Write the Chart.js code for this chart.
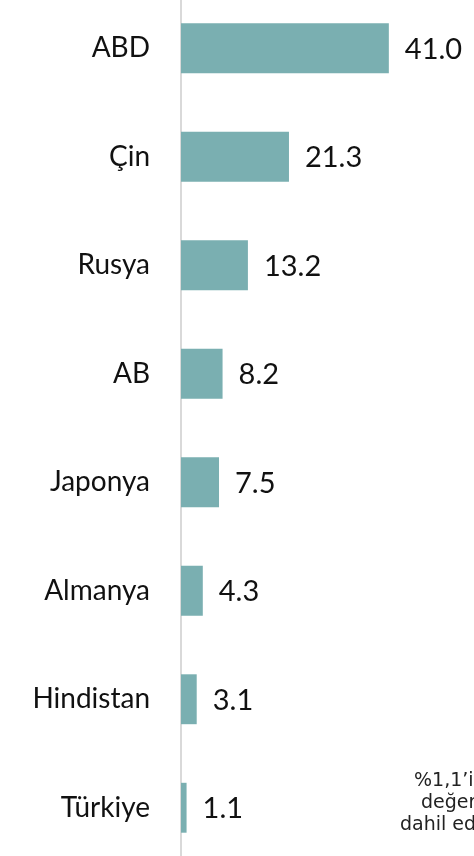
<!DOCTYPE html>
<html><head><meta charset="utf-8">
<script src="https://cdn.jsdelivr.net/npm/chart.js@4"></script>
<style>
html,body{margin:0;padding:0;background:#fff;width:474px;height:856px;overflow:hidden;position:relative}
#c{position:absolute;left:0;top:-6px}
.note{position:absolute;font-family:"DejaVu Sans",Verdana,sans-serif;font-size:19px;color:#222;white-space:nowrap;line-height:22px}
</style></head><body>
<canvas id="c" width="474" height="868"></canvas>
<div class="note" style="left:414px;top:768px">%1,1’in altındaki</div>
<div class="note" style="left:421px;top:790px">değerler</div>
<div class="note" style="left:400px;top:812px">dahil edilmemiştir</div>
<script>
const categories = ["ABD","Çin","Rusya","AB","Japonya","Almanya","Hindistan","Türkiye"];
const values = [41.0,21.3,13.2,8.2,7.5,4.3,3.1,1.1];
const valueLabels = ["41.0","21.3","13.2","8.2","7.5","4.3","3.1","1.1"];

const FONT = "Lato, 'Open Sans', sans-serif";
const labelPlugin = {
  id:'valLabels',
  afterDatasetsDraw(chart){
    const ctx = chart.ctx;
    const meta = chart.getDatasetMeta(0);
    ctx.save();
    ctx.font = "29px " + FONT;
    ctx.fillStyle = "#111";
    ctx.textBaseline = "middle";
    ctx.textAlign = "left";
    meta.data.forEach((bar,i)=>{
      ctx.fillText(valueLabels[i], bar.x + 16, bar.y + 1);
    });
    ctx.restore();
  }
};

new Chart(document.getElementById('c'), {
  type:'bar',
  data:{labels:categories, datasets:[{data:values, backgroundColor:'#7aafb1', borderWidth:0, barPercentage:0.46, categoryPercentage:1}]},
  options:{
    indexAxis:'y', responsive:false, maintainAspectRatio:false, animation:false, devicePixelRatio:1,
    layout:{padding:0},
    plugins:{legend:{display:false}, tooltip:{enabled:false}, title:{display:false}},
    scales:{
      x:{display:false, min:0, max:57.8},
      y:{
        afterFit(s){ s.width = 181; s.paddingTop = 0; s.paddingBottom = 0; },
        grid:{display:false, drawTicks:false},
        border:{display:true, color:'#d9d9d9', width:2},
        ticks:{padding:31, color:'#111', font:{family:FONT, size:28}}
      }
    }
  },
  plugins:[labelPlugin]
});
</script>
</body></html>
